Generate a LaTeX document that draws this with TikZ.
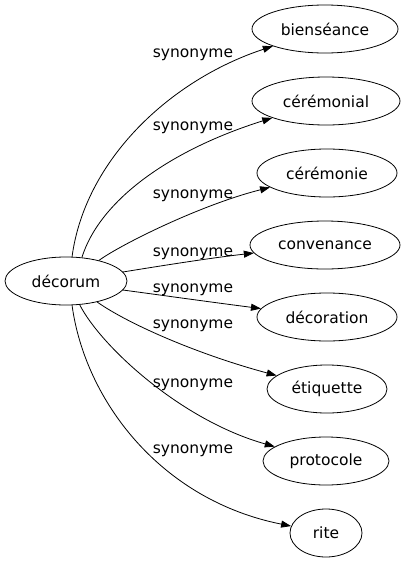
\documentclass[tikz,border=0pt]{standalone}
\usepackage{fontspec}
\setmainfont{DejaVu Sans}
\usetikzlibrary{shapes.geometric,arrows.meta}
\begin{document}
\begin{tikzpicture}[x=1pt,y=-1pt,
  word/.style={draw, ellipse, inner sep=0pt, line width=0.8pt, minimum height=48pt, font=\fontsize{15.5}{18}\selectfont},
  lbl/.style={font=\fontsize{15.5}{18}\selectfont, inner sep=0pt, anchor=base},
  syn/.style={line width=0.8pt, -{Triangle[length=10pt,width=7pt]}}]
\useasboundingbox (0,0) rectangle (408,563);
\node[word, minimum width=122pt] (d) at (66,281) {décorum};
\node[word, minimum width=146pt] (n1) at (325,29) {bienséance};
\node[word, minimum width=148pt] (n2) at (326,101) {cérémonial};
\node[word, minimum width=140pt] (n3) at (327,173) {cérémonie};
\node[word, minimum width=150pt] (n4) at (325,245) {convenance};
\node[word, minimum width=140pt] (n5) at (327,317) {décoration};
\node[word, minimum width=120pt] (n6) at (327,389) {étiquette};
\node[word, minimum width=126pt] (n7) at (326,461) {protocole};
\node[word, minimum width=72pt] (n8) at (326,533) {rite};
\node[lbl] (l1) at (193,57) {synonyme};
\node[lbl] (l2) at (193,130) {synonyme};
\node[lbl] (l3) at (193,198) {synonyme};
\node[lbl] (l4) at (193,256) {synonyme};
\node[lbl] (l5) at (193,292) {synonyme};
\node[lbl] (l6) at (193,328) {synonyme};
\node[lbl] (l7) at (193,387) {synonyme};
\node[lbl] (l8) at (193,453) {synonyme};
\draw[syn] (d.76) .. controls (85,160) and (170,80) .. (n1);
\draw[syn] (d.56) .. controls (100,200) and (170,150) .. (n2);
\draw[syn] (d.32) .. controls (120,245) and (200,205) .. (n3);
\draw[syn] (d.9) .. controls (160,266) and (210,258) .. (n4);
\draw[syn] (d.-9) .. controls (160,295) and (210,302) .. (n5);
\draw[syn] (d.-34) .. controls (130,325) and (200,355) .. (n6);
\draw[syn] (d.-60) .. controls (100,345) and (180,420) .. (n7);
\draw[syn] (d.-76) .. controls (85,400) and (160,500) .. (n8);
\end{tikzpicture}
\end{document}
